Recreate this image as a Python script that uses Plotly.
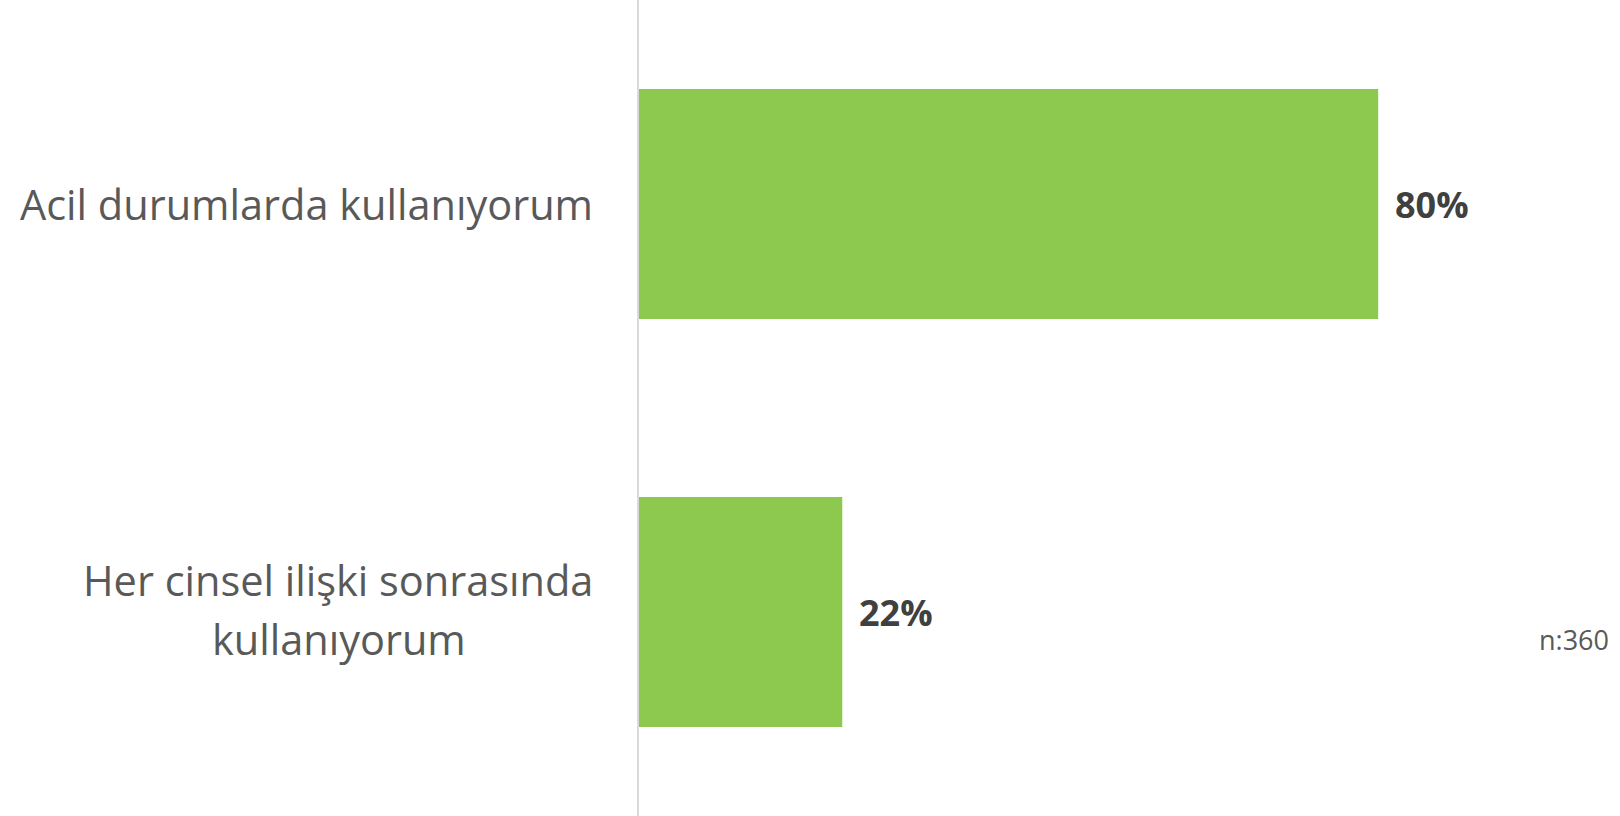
import plotly.graph_objects as go

# Survey answers and their shares (percent of respondents)
categories = ["Acil durumlarda kullanıyorum", "Her cinsel ilişki sonrasında<br>kullanıyorum"]
values = [80, 22]
sample_note = "n:360"

BAR_COLOR = "#8CC94E"
LABEL_COLOR = "#595959"
VALUE_COLOR = "#404040"
FONT = "Open Sans"
LABEL_SIZE = 41.5
LABEL_GAP = -44          # px between label right edge and the axis
LINE_OFFSET = 29.5       # half the distance between wrapped label lines
WRAPPED_CENTER = -300    # px from axis to the centre of a wrapped label block

fig = go.Figure(
    go.Bar(
        x=values,
        y=categories,
        orientation="h",
        marker=dict(color=BAR_COLOR, line=dict(width=0)),
        width=0.564,
        hoverinfo="skip",
    )
)

annotations = []
label_font = dict(family=FONT, size=LABEL_SIZE, color=LABEL_COLOR)
# Category labels; wrapped ones are centred line by line
for cat in categories:
    lines = cat.split("<br>")
    if len(lines) == 1:
        annotations.append(
            dict(x=0, y=cat, xref="paper", yref="y",
                 xanchor="right", yanchor="middle", xshift=LABEL_GAP,
                 text=cat, showarrow=False, font=label_font)
        )
    else:
        n = len(lines)
        for i, line in enumerate(lines):
            shift = (i - (n - 1) / 2) * 2 * LINE_OFFSET
            annotations.append(
                dict(x=0, y=cat, xref="paper", yref="y",
                     xanchor="right" if i == 0 else "center",
                     yanchor="middle",
                     xshift=LABEL_GAP if i == 0 else WRAPPED_CENTER,
                     yshift=-shift + 3,
                     text=line, showarrow=False, font=label_font)
            )
# Value labels just past the end of each bar
for cat, v in zip(categories, values):
    annotations.append(
        dict(
            x=v, y=cat, xref="x", yref="y",
            xanchor="left", yanchor="middle", xshift=15,
            text=f"<b>{v}%</b>", showarrow=False,
            font=dict(family=FONT, size=36, color=VALUE_COLOR),
        )
    )
# Sample size note
annotations.append(
    dict(
        x=1.052, y=categories[1], xref="paper", yref="y",
        xanchor="right", yanchor="middle", yshift=-27,
        text=sample_note, showarrow=False,
        font=dict(family=FONT, size=27, color=LABEL_COLOR),
    )
)

fig.update_layout(
    width=1620,
    height=816,
    margin=dict(l=639, r=57, t=0, b=0),
    paper_bgcolor="white",
    plot_bgcolor="white",
    showlegend=False,
    annotations=annotations,
    xaxis=dict(range=[0, 100], visible=False, fixedrange=True),
    yaxis=dict(
        type="category",
        categoryorder="array",
        categoryarray=categories,
        range=[1.5, -0.5],
        showticklabels=False,
        showgrid=False,
        zeroline=False,
        showline=True,
        linecolor="#D9D9D9",
        linewidth=2,
        ticks="",
        fixedrange=True,
    ),
)

fig.write_html("out.html")
